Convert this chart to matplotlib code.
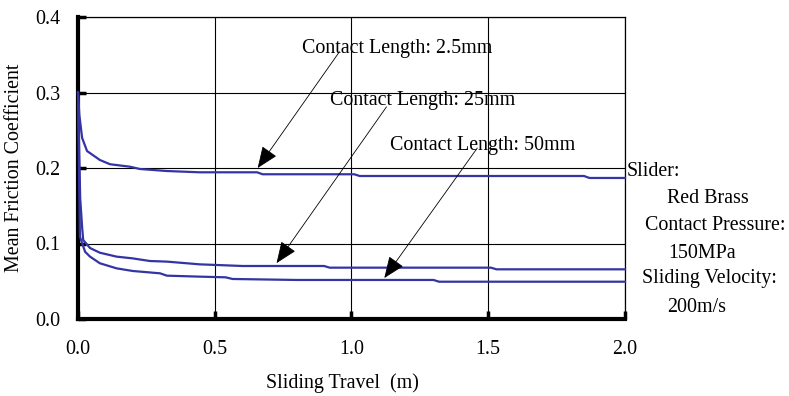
import matplotlib
matplotlib.use("Agg")
import matplotlib.pyplot as plt

plt.rcParams['font.family'] = ['Liberation Serif', 'DejaVu Serif']
FS = 14.4

# Data
x_25 = [0, 0.005, 0.015, 0.033, 0.08, 0.117, 0.19, 0.226, 0.325, 0.445, 0.655, 0.675, 1.01, 1.03, 1.85, 1.87, 2.0]
y_25 = [0.300, 0.27, 0.240, 0.2225, 0.2106, 0.205, 0.2017, 0.1987, 0.196, 0.1943, 0.1943, 0.1917, 0.1917, 0.1894, 0.1894, 0.1868, 0.1868]

x_250 = [0, 0.008, 0.015, 0.019, 0.044, 0.08, 0.141, 0.2, 0.263, 0.325, 0.445, 0.602, 0.90, 0.92, 1.51, 1.53, 2.0]
y_250 = [0.300, 0.16, 0.122, 0.1046, 0.094, 0.0878, 0.0826, 0.0803, 0.0768, 0.076, 0.0724, 0.0702, 0.0702, 0.068, 0.068, 0.0658, 0.0658]

x_500 = [0, 0.007, 0.026, 0.044, 0.08, 0.141, 0.2, 0.3, 0.325, 0.445, 0.54, 0.565, 0.8, 1.3, 1.32, 2.0]
y_500 = [0.300, 0.109, 0.089, 0.0826, 0.0738, 0.0671, 0.0636, 0.0605, 0.0574, 0.0561, 0.0552, 0.053, 0.0517, 0.0517, 0.0494, 0.0494]

x_ticks = [0.0, 0.5, 1.0, 1.5, 2.0]
x_ticklabels = ["0.0", "0.5", "1.0", "1.5", "2.0"]
y_ticks = [0.0, 0.1, 0.2, 0.3, 0.4]
y_ticklabels = ["0.0", "0.1", "0.2", "0.3", "0.4"]

labels = ["Contact Length: 2.5mm", "Contact Length: 25mm", "Contact Length: 50mm"]
label_pos = [(0.818, 0.358), (0.92, 0.29), (1.139, 0.23)]
arrow_start = [(0.956, 0.354), (1.128, 0.281), (1.46, 0.2265)]
arrow_tip = [(0.657, 0.200), (0.726, 0.074), (1.12, 0.0543)]

side_text = ["Slider:", "Red Brass", "Contact Pressure:", "150MPa", "Sliding Velocity:", "200m/s"]
side_x = [627, 667, 645, 668, 642, 667]
side_y = [172, 199, 226, 253, 279, 307]

W, H = 789, 396
fig = plt.figure(figsize=(W / 100, H / 100), dpi=100)
ax = fig.add_axes([78 / W, 1 - 319 / H, (625 - 78) / W, (319 - 17) / H])

line_color = '#3434a4'
for xs, ys in [(x_25, y_25), (x_250, y_250), (x_500, y_500)]:
    ax.plot(xs, ys, color=line_color, lw=1.6, zorder=3, clip_on=False)

ax.set_xlim(0, 2.0)
ax.set_ylim(0, 0.4)
ax.set_xticks(x_ticks)
ax.set_xticklabels(x_ticklabels, fontsize=FS)
ax.set_yticks(y_ticks)
ax.set_yticklabels(y_ticklabels, fontsize=FS)
ax.grid(True, color='black', lw=0.8)
ax.set_axisbelow(True)

for s in ['top', 'right']:
    ax.spines[s].set_linewidth(0.9)
for s in ['left', 'bottom']:
    ax.spines[s].set_linewidth(3.0)

ax.tick_params(axis='y', direction='in', length=6, width=2.5, pad=13)
ax.tick_params(axis='x', direction='in', length=6, width=2.5, pad=15)

for lab, (tx, ty), (sx, sy), (hx, hy) in zip(labels, label_pos, arrow_start, arrow_tip):
    ax.text(tx, ty, lab, fontsize=FS, ha='left', va='center', zorder=5)
    ax.annotate("", xy=(hx, hy), xytext=(sx, sy),
                arrowprops=dict(arrowstyle='-|>,head_length=1.35,head_width=0.55',
                                color='black', lw=0.6, shrinkA=0, shrinkB=0),
                zorder=6)

for t, px, py in zip(side_text, side_x, side_y):
    fig.text(px / W, 1 - py / H, t, fontsize=FS, ha='left', va='center')

fig.text(15 / W, 1 - 168 / H, "Mean Friction Coefficient", fontsize=FS,
         rotation=90, ha='center', va='center')
fig.text(342 / W, 1 - 383 / H, "Sliding Travel  (m)", fontsize=FS,
         ha='center', va='center')

fig.savefig("out.png", dpi=100)
